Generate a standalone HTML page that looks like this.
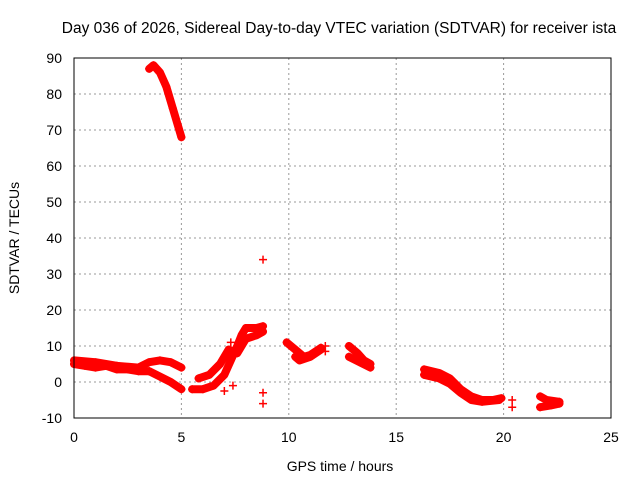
<!DOCTYPE html>
<html><head><meta charset="utf-8"><style>
body{margin:0;background:#fff}
svg{display:block;font-family:"Liberation Sans",sans-serif}
</style></head><body>
<svg id="chart" width="640" height="480">
<text x="339" y="33" text-anchor="middle" font-size="15.5">Day 036 of 2026, Sidereal Day-to-day VTEC variation (SDTVAR) for receiver ista</text>
<text x="340" y="471" text-anchor="middle" font-size="14">GPS time / hours</text>
<text transform="translate(19,238) rotate(-90)" text-anchor="middle" font-size="14">SDTVAR / TECUs</text>
<g id="grid"></g><g id="ticks"></g><g id="series"></g>
<rect x="74" y="58" width="537" height="360" fill="none" stroke="#000"/>
</svg>
<script>
const xTicks=[0,5,10,15,20,25];
const yTicks=[-10,0,10,20,30,40,50,60,70,80,90];
const segA1=[[0,5],[0.5,4.5],[1,4],[1.5,4.5],[2,3.5],[2.5,3.5],[3,3],[3.5,3]];
const segA2=[[0,6],[1,5.5],[2,4.5],[3,4],[3.5,5.5],[4,6],[4.5,5.5],[5,4]];
const segA3=[[3.5,3],[4,1.5],[4.5,0],[5,-2]];
const segB=[[3.5,87],[3.7,88],[4,86],[4.3,82],[4.6,76],[5,68]];
const segC1=[[5.5,-2],[6,-2],[6.5,-1],[7,2],[7.3,6],[7.6,10],[7.8,13],[8,15],[8.5,15],[8.8,15.5]];
const segC2=[[5.8,1],[6.3,2],[6.8,5],[7.2,9],[7.6,8],[8,12],[8.5,13],[8.8,14]];
const segD1=[[9.9,11],[10.3,9],[10.7,7],[11,7.5],[11.5,9.5]];
const segD2=[[10.3,7],[10.5,6],[11,7],[11.5,9]];
const segE1=[[12.8,10],[13.2,8],[13.5,6],[13.8,5]];
const segE2=[[12.8,7],[13.3,5.5],[13.8,4]];
const segF1=[[16.3,3.5],[17,2.5],[17.5,1],[18,-2],[18.5,-4],[19,-5],[19.5,-5],[19.9,-4.5]];
const segF2=[[16.3,2],[17,1],[17.5,-0.5],[18,-3],[18.5,-5],[19,-5.5],[19.8,-5]];
const segG1=[[21.7,-4],[22,-5],[22.6,-5.5]];
const segG2=[[21.7,-7],[22.2,-6.5],[22.6,-6]];
const isolated=[[8.8,34],[8.8,-3],[8.8,-6],[7.4,-1],[7,-2.5],[7.3,7],[7.3,11],[11.7,8.5],[11.7,10],[20.4,-5],[20.4,-7]];
const segments=[segA1,segA2,segA3,segB,segC1,segC2,segD1,segD2,segE1,segE2,segF1,segF2,segG1,segG2];
const NS="http://www.w3.org/2000/svg";
const xs=v=>74+v*(537/25);
const ys=v=>418-(v+10)*3.6;
function mk(t,a,p){const e=document.createElementNS(NS,t);for(const k in a)e.setAttribute(k,a[k]);p.appendChild(e);return e;}
const grid=document.getElementById('grid'),ticks=document.getElementById('ticks'),ser=document.getElementById('series');
xTicks.forEach(v=>{
 if(v>0&&v<25){const g=mk('line',{x1:xs(v),x2:xs(v),y1:58,y2:418,stroke:'#999','stroke-dasharray':'2,3'},grid);
 
 }
 const t=mk('text',{x:xs(v),y:442,'text-anchor':'middle','font-size':14},ticks);t.textContent=v;
 
 
});
yTicks.forEach(v=>{
 if(v>-10&&v<90){const g=mk('line',{x1:74,x2:611,y1:ys(v),y2:ys(v),stroke:'#999','stroke-dasharray':'2,3'},grid);
 
 }
 const t=mk('text',{x:62,y:ys(v)+5,'text-anchor':'end','font-size':14},ticks);t.textContent=v;
 
 
});
function plus(x,y){const p=mk('path',{d:`M${xs(x)-4},${ys(y)}h8M${xs(x)},${ys(y)-4}v8`,stroke:'#f00','stroke-width':1.5},ser);
 
 }
segments.forEach(s=>{
 const pl=mk('polyline',{points:s.map(p=>xs(p[0])+','+ys(p[1])).join(' '),fill:'none',stroke:'#f00','stroke-width':8,'stroke-linejoin':'round','stroke-linecap':'round'},ser);
 
 
 s.forEach(p=>plus(p[0],p[1]));
});
isolated.forEach(p=>plus(p[0],p[1]));
</script>
</body></html>
